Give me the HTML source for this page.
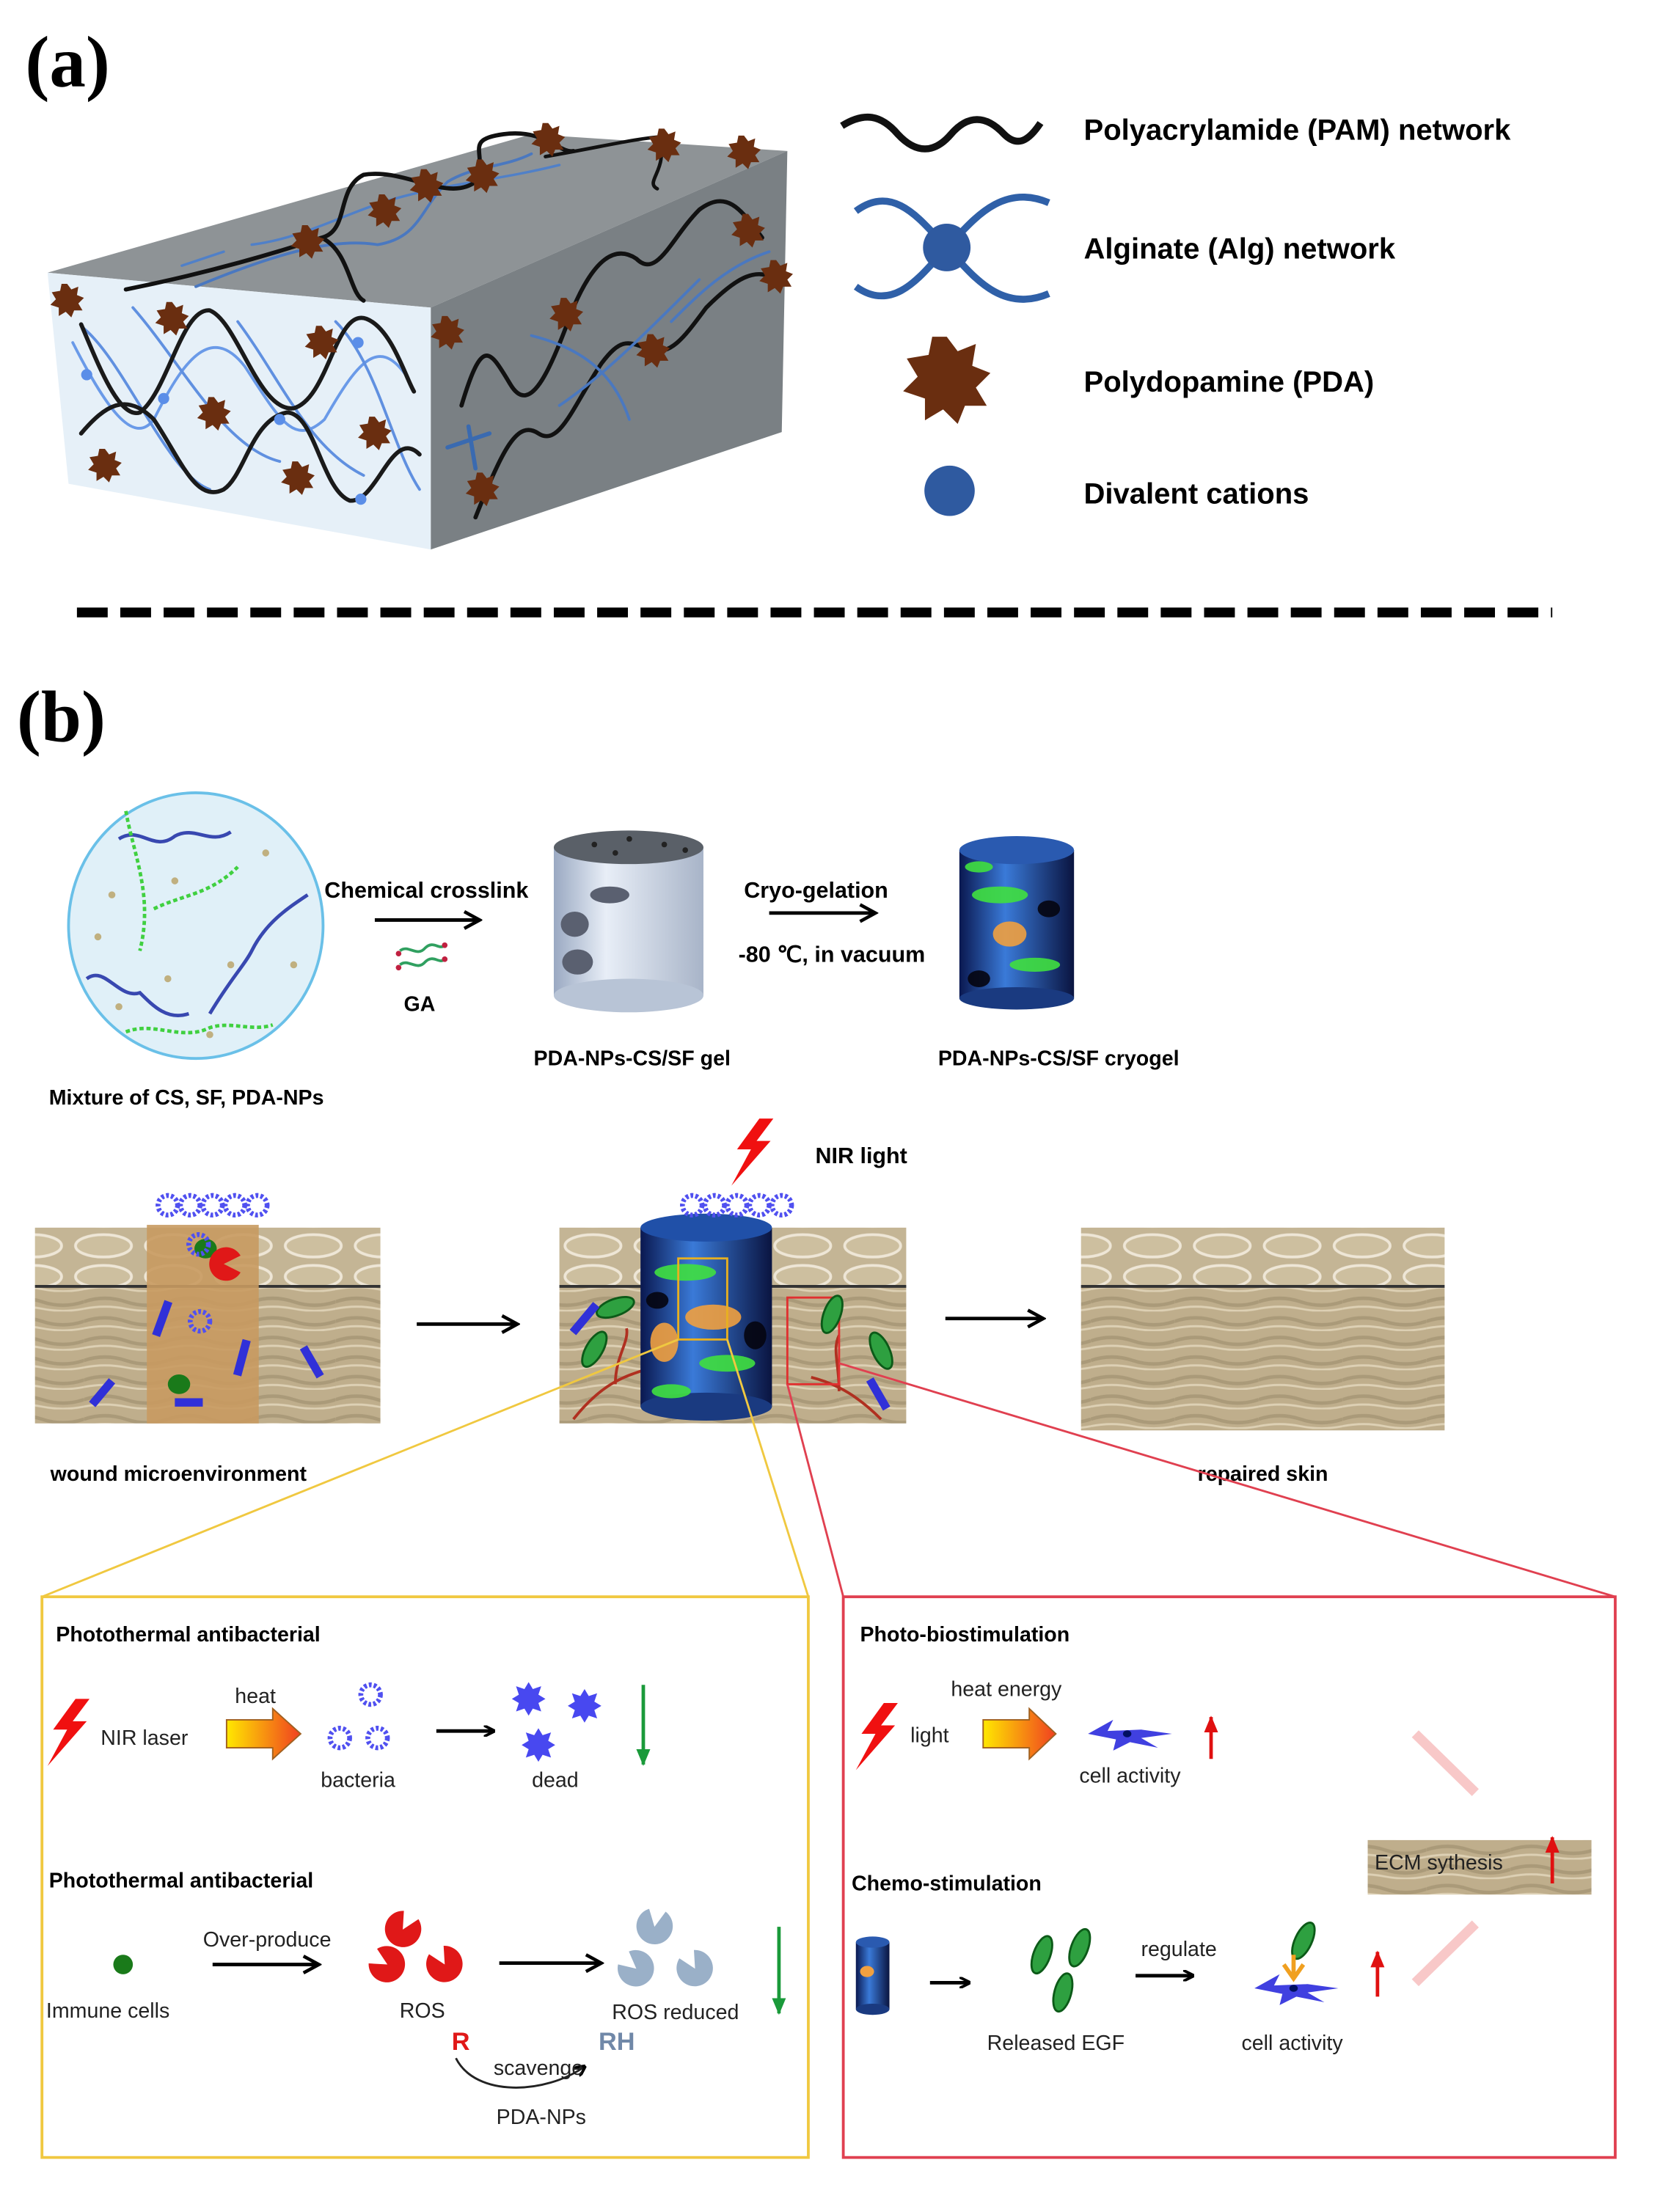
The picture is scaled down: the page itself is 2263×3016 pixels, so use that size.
<!DOCTYPE html>
<html><head><meta charset="utf-8"><style>
html,body{margin:0;padding:0;background:#fff;}
svg{display:block;}
text{font-family:"Liberation Sans",Arial,sans-serif;}
</style></head><body>
<svg width="2263" height="3016" viewBox="0 0 1187 1582" xmlns="http://www.w3.org/2000/svg">
<defs>
<linearGradient id="ga" x1="0" x2="1"><stop offset="0" stop-color="#ffe800"/><stop offset="1" stop-color="#f04020"/></linearGradient>
<linearGradient id="cyl" x1="0" x2="1"><stop offset="0" stop-color="#9aa9c2"/><stop offset="0.35" stop-color="#e8eef7"/><stop offset="1" stop-color="#a8b4c8"/></linearGradient>
<linearGradient id="cyg" x1="0" x2="1"><stop offset="0" stop-color="#0a1850"/><stop offset="0.4" stop-color="#3a7ad8"/><stop offset="1" stop-color="#0a1440"/></linearGradient>
<pattern id="derm" width="60" height="14" patternUnits="userSpaceOnUse"><rect width="60" height="14" fill="#bfae8c"/><path d="M0 7 Q15 2 30 7 T60 7" stroke="#9c8c6c" stroke-width="2.5" fill="none" opacity="0.6"/><path d="M0 12 Q15 9 30 12 T60 12" stroke="#ddd0b4" stroke-width="1.5" fill="none"/></pattern>
<pattern id="epi" width="50" height="22" patternUnits="userSpaceOnUse"><rect width="50" height="22" fill="#c4b595"/><ellipse cx="24" cy="11" rx="20" ry="8" fill="#cdbf9f" stroke="#eee6d6" stroke-width="2"/></pattern>
<marker id="ah" markerWidth="8" markerHeight="8" refX="7" refY="4" orient="auto" markerUnits="userSpaceOnUse"><path d="M0 0 L8 4 L0 8" fill="none" stroke="#000" stroke-width="2"/></marker>
<marker id="ahb" markerWidth="14" markerHeight="14" refX="12" refY="7" orient="auto" markerUnits="userSpaceOnUse"><path d="M1 1 L12 7 L1 13" fill="none" stroke="#000" stroke-width="2.4"/></marker>
<marker id="agr" markerWidth="12" markerHeight="10" refX="11" refY="5" orient="auto" markerUnits="userSpaceOnUse"><path d="M0 0 L12 5 L0 10Z" fill="#1a9a3a"/></marker>
<marker id="ard" markerWidth="12" markerHeight="10" refX="11" refY="5" orient="auto" markerUnits="userSpaceOnUse"><path d="M0 0 L12 5 L0 10Z" fill="#e01010"/></marker>
<g id="star"><polygon points="0,-12 3,-8 8,-10 7,-4 12,-2 8,2 11,7 5,7 3,12 -1,8 -6,11 -6,5 -12,3 -8,-1 -11,-6 -5,-7 -4,-12" fill="#6a2e10"/></g>
<g id="bac"><circle r="7" fill="none" stroke="#5050f0" stroke-width="3.5" stroke-dasharray="2 1.5"/></g>
<g id="dead"><polygon points="0,-12 3,-7 9,-9 7,-3 12,0 7,3 9,9 3,7 0,12 -3,7 -9,9 -7,3 -12,0 -7,-3 -9,-9 -3,-7" fill="#4848f0"/></g>
<g id="light"><polygon points="20,0 4,22 14,22 0,48 28,16 18,16 30,0" fill="#f01010"/></g>
<g id="egf"><ellipse rx="6" ry="14" fill="#2ea040" stroke="#0c5a18" stroke-width="1.5"/></g>
<g id="cell"><path d="M0 0 L18 -10 L14 -2 L38 -3 L60 0 L38 3 L50 10 L30 6 L18 12 L20 4 Z" fill="#4040e0"/><ellipse cx="28" cy="0" rx="3" ry="2.5" fill="#001060"/></g>
<g id="pac"><path d="M0 0 L12 -6 A13 13 0 1 0 12 6 Z" /></g>
</defs>

<!-- (a) -->
<text x="18" y="62" style="font-family:'Liberation Serif',serif;font-weight:bold;font-size:52px">(a)</text>
<polygon points="34,195 380,96 563,108 308,220" fill="#8e9396"/>
<polygon points="308,220 563,108 559,309 308,393" fill="#7a8084"/>
<polygon points="34,195 308,220 308,393 49,346" fill="#e6f0f8"/>
<g fill="none" stroke-linecap="round">
<path d="M52 245 C75 290 95 320 110 300 C130 260 150 230 175 262 C200 300 210 320 232 300 C255 260 270 240 290 268" stroke="#6a9ae8" stroke-width="2"/>
<path d="M60 235 C90 260 120 340 150 350 M95 220 C130 260 160 320 200 330 M170 230 C200 270 220 320 260 340 M240 230 C270 260 280 320 300 350" stroke="#6090e0" stroke-width="2"/>
<path d="M58 232 C70 260 85 300 100 295 C120 280 130 220 150 222 C170 230 185 295 210 292 C235 285 240 220 262 228 C280 235 290 270 296 280" stroke="#1a1a1a" stroke-width="3"/>
<path d="M58 310 C75 290 90 280 110 300 C130 330 140 360 160 350 C175 340 180 300 205 295 C225 295 230 350 250 358 C270 360 280 305 300 325" stroke="#1a1a1a" stroke-width="3"/>
</g>
<g fill="#5b8ee8"><circle cx="62" cy="268" r="4"/><circle cx="117" cy="285" r="4"/><circle cx="200" cy="300" r="4"/><circle cx="256" cy="245" r="4"/><circle cx="258" cy="357" r="4"/></g>
<use href="#star" x="48" y="215"/><use href="#star" x="123" y="228"/><use href="#star" x="230" y="245"/><use href="#star" x="153" y="296"/><use href="#star" x="268" y="310"/><use href="#star" x="75" y="333"/><use href="#star" x="213" y="342"/>
<g fill="none" stroke-linecap="round">
<path d="M140 205 C200 180 240 170 270 175 C300 170 300 150 320 130 C340 118 360 120 380 110" stroke="#4a78c0" stroke-width="2"/>
<path d="M130 190 L160 180 M180 175 C220 170 250 150 290 140 C330 130 360 128 400 118" stroke="#5080c8" stroke-width="1.8"/>
<path d="M90 207 C150 195 200 180 230 170 C250 165 240 135 260 125 C290 120 320 145 340 130 C350 110 330 100 360 96 C390 92 400 110 410 108 M230 170 C250 180 250 210 260 215" stroke="#111" stroke-width="3"/>
<path d="M390 112 C430 105 450 100 470 98 M470 98 C480 120 460 130 470 135" stroke="#111" stroke-width="2.5"/>
</g>
<use href="#star" x="220" y="173"/><use href="#star" x="305" y="133"/><use href="#star" x="345" y="126"/><use href="#star" x="392" y="100"/><use href="#star" x="475" y="104"/><use href="#star" x="275" y="151"/><use href="#star" x="532" y="109"/>
<g fill="none" stroke-linecap="round">
<path d="M330 290 C345 240 350 250 365 275 C380 300 395 260 410 220 C425 185 440 175 455 185 C470 200 480 170 500 150 C520 135 530 150 545 170" stroke="#111" stroke-width="3"/>
<path d="M340 370 C360 320 370 300 385 310 C400 320 410 290 430 260 C445 240 450 245 465 250 C480 255 490 240 505 220 C525 200 540 190 555 200" stroke="#111" stroke-width="3"/>
<path d="M380 240 C420 250 440 270 450 300 M400 290 C430 270 460 240 500 200 M480 230 C500 210 520 190 550 180" stroke="#4a78c0" stroke-width="2"/>
<path d="M320 320 L350 310 M335 305 L340 335" stroke="#3a6ab0" stroke-width="3"/>
</g>
<use href="#star" x="320" y="238"/><use href="#star" x="405" y="225"/><use href="#star" x="467" y="251"/><use href="#star" x="535" y="165"/><use href="#star" x="345" y="350"/><use href="#star" x="555" y="198"/>

<path d="M602 90 C618 80 630 82 642 96 C655 110 668 110 680 96 C692 82 705 82 718 96 C728 106 736 100 744 88" fill="none" stroke="#111" stroke-width="5"/>
<text x="775" y="100" font-weight="bold" font-size="21">Polyacrylamide (PAM) network</text>
<path d="M612 151 C640 130 660 160 677 177 C694 160 715 130 750 145 M612 205 C640 225 660 195 677 177 C694 195 715 225 750 210" fill="none" stroke="#2f60a8" stroke-width="5"/>
<circle cx="677" cy="177" r="17" fill="#2f5aa0"/>
<text x="775" y="185" font-weight="bold" font-size="21">Alginate (Alg) network</text>
<g transform="translate(677,272) scale(2.6)"><use href="#star"/></g>
<text x="775" y="280" font-weight="bold" font-size="21">Polydopamine (PDA)</text>
<circle cx="679" cy="351" r="18" fill="#2f5aa0"/>
<text x="775" y="360" font-weight="bold" font-size="21">Divalent cations</text>
<line x1="55" y1="438" x2="1110" y2="438" stroke="#000" stroke-width="7" stroke-dasharray="22 9"/>

<!-- (b) -->
<text x="12" y="530" style="font-family:'Liberation Serif',serif;font-weight:bold;font-size:52px">(b)</text>
<ellipse cx="140" cy="662" rx="91" ry="95" fill="#e0f0f8" stroke="#6ac0e8" stroke-width="2"/>
<g fill="none" stroke-width="2.5">
<path d="M85 600 C100 590 110 610 125 598 C140 590 150 605 165 595" stroke="#3848b0"/>
<path d="M62 700 C75 690 85 715 100 710 C110 720 120 730 135 725" stroke="#3848b0"/>
<path d="M150 725 C165 700 175 690 180 680 C190 660 205 650 220 640" stroke="#3848b0"/>
<path d="M90 580 C95 610 110 640 100 680 M110 650 C130 640 150 640 170 620" stroke="#40d040" stroke-dasharray="3 2"/>
<path d="M90 738 C110 730 130 745 150 735 C165 730 180 738 195 733" stroke="#40d040" stroke-dasharray="3 2"/>
</g>
<g fill="#c0b080"><circle cx="80" cy="640" r="2.5"/><circle cx="125" cy="630" r="2.5"/><circle cx="190" cy="610" r="2.5"/><circle cx="165" cy="690" r="2.5"/><circle cx="210" cy="690" r="2.5"/><circle cx="85" cy="720" r="2.5"/><circle cx="120" cy="700" r="2.5"/><circle cx="150" cy="740" r="2.5"/><circle cx="70" cy="670" r="2.5"/></g>
<text x="232" y="642" font-weight="bold" font-size="16">Chemical crosslink</text>
<line x1="268" y1="658" x2="343" y2="658" stroke="#000" stroke-width="2.5" marker-end="url(#ahb)"/>
<path d="M286 680 C292 675 298 685 304 678 C310 672 314 680 318 676 M286 690 C292 685 298 695 304 688 C310 682 314 690 318 686" fill="none" stroke="#30a060" stroke-width="2"/>
<circle cx="285" cy="682" r="2" fill="#c02040"/><circle cx="318" cy="676" r="2" fill="#c02040"/><circle cx="285" cy="692" r="2" fill="#c02040"/><circle cx="318" cy="686" r="2" fill="#c02040"/>
<text x="300" y="723" font-weight="bold" font-size="15" text-anchor="middle">GA</text>
<rect x="396" y="606" width="107" height="106" fill="url(#cyl)"/>
<ellipse cx="449.5" cy="712" rx="53.5" ry="12" fill="#b8c4d6"/>
<ellipse cx="449.5" cy="606" rx="53.5" ry="12" fill="#5a6068"/>
<g fill="#222"><circle cx="425" cy="604" r="2"/><circle cx="450" cy="600" r="2"/><circle cx="475" cy="604" r="2"/><circle cx="440" cy="610" r="2"/><circle cx="490" cy="608" r="2"/></g>
<ellipse cx="436" cy="640" rx="14" ry="6" fill="#5a6070"/><ellipse cx="411" cy="661" rx="10" ry="9" fill="#5a6070"/><ellipse cx="413" cy="688" rx="11" ry="9" fill="#5a6070"/>
<text x="452" y="762" font-weight="bold" font-size="15" text-anchor="middle">PDA-NPs-CS/SF  gel</text>
<text x="532" y="642" font-weight="bold" font-size="16">Cryo-gelation</text>
<line x1="550" y1="653" x2="626" y2="653" stroke="#000" stroke-width="2.5" marker-end="url(#ahb)"/>
<text x="528" y="688" font-weight="bold" font-size="16">-80 ℃, in vacuum</text>
<rect x="686" y="608" width="82" height="106" fill="url(#cyg)"/>
<ellipse cx="727" cy="714" rx="41" ry="8" fill="#1a3a80"/>
<ellipse cx="727" cy="608" rx="41" ry="10" fill="#2a5ab0"/>
<g opacity="0.9"><ellipse cx="715" cy="640" rx="20" ry="6" fill="#40e040"/><ellipse cx="722" cy="668" rx="12" ry="9" fill="#f0a040"/><ellipse cx="740" cy="690" rx="18" ry="5" fill="#40e040"/><ellipse cx="700" cy="700" rx="8" ry="6" fill="#050510"/><ellipse cx="750" cy="650" rx="8" ry="6" fill="#050510"/><ellipse cx="700" cy="620" rx="10" ry="4" fill="#40e040"/></g>
<text x="757" y="762" font-weight="bold" font-size="15" text-anchor="middle">PDA-NPs-CS/SF  cryogel</text>
<text x="35" y="790" font-weight="bold" font-size="15">Mixture of CS, SF, PDA-NPs</text>

<rect x="25" y="878" width="247" height="42" fill="url(#epi)"/><rect x="25" y="920" width="247" height="98" fill="url(#derm)"/><line x1="25" y1="920" x2="272" y2="920" stroke="#333" stroke-width="2"/>
<rect x="105" y="876" width="80" height="142" fill="#c89a60" opacity="0.9"/>
<g transform="translate(120,862)"><use href="#bac" x="0"/><use href="#bac" x="16"/><use href="#bac" x="32"/><use href="#bac" x="48"/><use href="#bac" x="64"/></g>
<ellipse cx="147" cy="893" rx="8" ry="7" fill="#1a7a1a"/><ellipse cx="128" cy="990" rx="8" ry="7" fill="#1a7a1a"/>
<path d="M160 904 L172 898 A12 12 0 1 0 172 910Z" fill="#e01818"/>
<use href="#bac" x="143" y="945"/><use href="#bac" x="142" y="890"/>
<g fill="#3030d8"><rect x="113" y="930" width="6" height="26" transform="rotate(20 116 943)"/><rect x="170" y="958" width="6" height="26" transform="rotate(15 173 971)"/><rect x="220" y="962" width="6" height="24" transform="rotate(-30 223 974)"/><rect x="70" y="985" width="6" height="22" transform="rotate(40 73 996)"/><rect x="125" y="1000" width="20" height="6"/></g>
<line x1="298" y1="947" x2="370" y2="947" stroke="#000" stroke-width="2.5" marker-end="url(#ahb)"/>

<rect x="400" y="878" width="248" height="42" fill="url(#epi)"/><rect x="400" y="920" width="248" height="98" fill="url(#derm)"/><line x1="400" y1="920" x2="648" y2="920" stroke="#333" stroke-width="2"/>
<path d="M410 1015 C430 990 445 985 460 980 M440 990 C440 970 450 960 448 950 M580 985 C600 990 615 1000 630 1015 M600 995 C600 975 595 965 600 955" fill="none" stroke="#b03020" stroke-width="2"/>
<rect x="458" y="878" width="94" height="128" fill="url(#cyg)"/>
<ellipse cx="505" cy="1006" rx="47" ry="10" fill="#1a3a80"/><ellipse cx="505" cy="878" rx="47" ry="10" fill="#2050a8"/>
<g opacity="0.9"><ellipse cx="490" cy="910" rx="22" ry="6" fill="#40e040"/><ellipse cx="510" cy="942" rx="20" ry="9" fill="#f0a040"/><ellipse cx="475" cy="960" rx="10" ry="14" fill="#f0a040"/><ellipse cx="520" cy="975" rx="20" ry="6" fill="#40e040"/><ellipse cx="470" cy="930" rx="8" ry="6" fill="#050510"/><ellipse cx="540" cy="955" rx="8" ry="10" fill="#050510"/><ellipse cx="480" cy="995" rx="14" ry="5" fill="#40e040"/></g>
<rect x="485" y="900" width="35" height="58" fill="none" stroke="#e8b020" stroke-width="1.5"/>
<rect x="563" y="928" width="37" height="62" fill="none" stroke="#e03030" stroke-width="1.5"/>
<use href="#egf" x="595" y="940" transform="rotate(20 595 940)"/><use href="#egf" x="630" y="966" transform="rotate(-25 630 966)"/><use href="#egf" x="440" y="935" transform="rotate(70 440 935)"/><use href="#egf" x="425" y="965" transform="rotate(30 425 965)"/>
<g fill="#3030d8"><rect x="415" y="930" width="6" height="26" transform="rotate(40 418 943)"/><rect x="625" y="985" width="6" height="24" transform="rotate(-30 628 997)"/></g>
<g transform="translate(495,862)"><use href="#bac" x="0"/><use href="#bac" x="16"/><use href="#bac" x="32"/><use href="#bac" x="48"/><use href="#bac" x="64"/></g>
<g transform="translate(523,800)"><use href="#light"/></g>
<text x="583" y="832" font-weight="bold" font-size="16">NIR light</text>
<line x1="676" y1="943" x2="746" y2="943" stroke="#000" stroke-width="2.5" marker-end="url(#ahb)"/>
<rect x="773" y="878" width="260" height="42" fill="url(#epi)"/><rect x="773" y="920" width="260" height="103" fill="url(#derm)"/><line x1="773" y1="920" x2="1033" y2="920" stroke="#333" stroke-width="2"/>
<text x="36" y="1059" font-weight="bold" font-size="15">wound microenvironment</text>
<text x="903" y="1059" font-weight="bold" font-size="15" text-anchor="middle">repaired skin</text>

<line x1="485" y1="958" x2="30" y2="1142" stroke="#f0c840" stroke-width="1.5"/>
<line x1="520" y1="958" x2="578" y2="1142" stroke="#f0c840" stroke-width="1.5"/>
<line x1="563" y1="990" x2="603" y2="1142" stroke="#e04050" stroke-width="1.5"/>
<line x1="600" y1="975" x2="1155" y2="1142" stroke="#e04050" stroke-width="1.5"/>
<rect x="30" y="1142" width="548" height="401" fill="none" stroke="#f0c840" stroke-width="2"/>
<rect x="603" y="1142" width="552" height="401" fill="none" stroke="#e04050" stroke-width="2"/>

<text x="40" y="1174" font-weight="bold" font-size="15">Photothermal antibacterial</text>
<g transform="translate(34,1215)"><use href="#light"/></g>
<text x="72" y="1248" font-size="15" fill="#222">NIR laser</text>
<text x="168" y="1218" font-size="15" fill="#222">heat</text>
<path d="M162 1230 L195 1230 L195 1222 L215 1240 L195 1258 L195 1250 L162 1250Z" fill="url(#ga)" stroke="#a06020" stroke-width="1"/>
<use href="#bac" x="265" y="1212"/><use href="#bac" x="243" y="1243"/><use href="#bac" x="270" y="1243"/>
<text x="256" y="1278" font-size="15" fill="#222" text-anchor="middle">bacteria</text>
<line x1="312" y1="1238" x2="353" y2="1238" stroke="#000" stroke-width="2.5" marker-end="url(#ah)"/>
<use href="#dead" x="378" y="1215"/><use href="#dead" x="418" y="1220"/><use href="#dead" x="385" y="1248"/>
<text x="397" y="1278" font-size="15" fill="#222" text-anchor="middle">dead</text>
<line x1="460" y1="1205" x2="460" y2="1262" stroke="#1a9a3a" stroke-width="2.5" marker-end="url(#agr)"/>
<text x="35" y="1350" font-weight="bold" font-size="15">Photothermal antibacterial</text>
<ellipse cx="88" cy="1405" rx="7" ry="7" fill="#1a7a1a"/>
<text x="33" y="1443" font-size="15" fill="#222">Immune cells</text>
<text x="191" y="1392" font-size="15" fill="#222" text-anchor="middle">Over-produce</text>
<line x1="152" y1="1405" x2="228" y2="1405" stroke="#000" stroke-width="2.5" marker-end="url(#ahb)"/>
<g fill="#e01818"><use href="#pac" x="288" y="1380" transform="rotate(-60 288 1380)"/><use href="#pac" x="277" y="1405" transform="rotate(-150 277 1405)"/><use href="#pac" x="318" y="1405" transform="rotate(-120 318 1405)"/></g>
<text x="302" y="1443" font-size="15" fill="#222" text-anchor="middle">ROS</text>
<line x1="357" y1="1404" x2="430" y2="1404" stroke="#000" stroke-width="2.5" marker-end="url(#ahb)"/>
<g fill="#9ab0c8"><use href="#pac" x="468" y="1378" transform="rotate(-80 468 1378)"/><use href="#pac" x="455" y="1408" transform="rotate(-140 455 1408)"/><use href="#pac" x="497" y="1408" transform="rotate(-120 497 1408)"/></g>
<text x="483" y="1444" font-size="15" fill="#222" text-anchor="middle">ROS reduced</text>
<line x1="557" y1="1378" x2="557" y2="1440" stroke="#1a9a3a" stroke-width="2.5" marker-end="url(#agr)"/>
<text x="323" y="1466" font-weight="bold" font-size="18" fill="#e01818">R</text>
<text x="428" y="1466" font-weight="bold" font-size="18" fill="#7088a8">RH</text>
<path d="M326 1472 C340 1500 390 1498 418 1478" fill="none" stroke="#222" stroke-width="1.5" marker-end="url(#ah)"/>
<text x="385" y="1484" font-size="15" fill="#222" text-anchor="middle">scavenge</text>
<text x="387" y="1519" font-size="15" fill="#222" text-anchor="middle">PDA-NPs</text>

<text x="615" y="1174" font-weight="bold" font-size="15">Photo-biostimulation</text>
<g transform="translate(612,1218)"><use href="#light"/></g>
<text x="651" y="1246" font-size="15" fill="#222">light</text>
<text x="680" y="1213" font-size="15" fill="#222">heat energy</text>
<path d="M703 1230 L736 1230 L736 1222 L755 1240 L736 1258 L736 1250 L703 1250Z" fill="url(#ga)" stroke="#a06020" stroke-width="1"/>
<use href="#cell" x="778" y="1240"/>
<text x="808" y="1275" font-size="15" fill="#222" text-anchor="middle">cell activity</text>
<line x1="866" y1="1258" x2="866" y2="1228" stroke="#e01010" stroke-width="2.5" marker-end="url(#ard)"/>
<line x1="1012" y1="1240" x2="1055" y2="1282" stroke="#f8c8c8" stroke-width="7"/>
<line x1="1012" y1="1418" x2="1055" y2="1376" stroke="#f8c8c8" stroke-width="7"/>
<rect x="978" y="1316" width="160" height="39" fill="url(#derm)"/>
<text x="983" y="1337" font-size="15" fill="#222">ECM sythesis</text>
<line x1="1110" y1="1347" x2="1110" y2="1314" stroke="#e01010" stroke-width="2.5" marker-end="url(#ard)"/>
<text x="609" y="1352" font-weight="bold" font-size="15">Chemo-stimulation</text>
<rect x="612" y="1389" width="24" height="48" fill="url(#cyg)"/><ellipse cx="624" cy="1389" rx="12" ry="4" fill="#2a5ab0"/><ellipse cx="624" cy="1437" rx="12" ry="4" fill="#1a3a80"/><ellipse cx="620" cy="1410" rx="5" ry="4" fill="#f0a040"/>
<line x1="665" y1="1418" x2="693" y2="1418" stroke="#000" stroke-width="2.5" marker-end="url(#ah)"/>
<use href="#egf" x="745" y="1398" transform="rotate(20 745 1398)"/><use href="#egf" x="772" y="1393" transform="rotate(20 772 1393)"/><use href="#egf" x="760" y="1425" transform="rotate(15 760 1425)"/>
<text x="755" y="1466" font-size="15" fill="#222" text-anchor="middle">Released EGF</text>
<text x="843" y="1399" font-size="15" fill="#222" text-anchor="middle">regulate</text>
<line x1="812" y1="1413" x2="853" y2="1413" stroke="#000" stroke-width="2.5" marker-end="url(#ah)"/>
<use href="#egf" x="932" y="1388" transform="rotate(25 932 1388)"/>
<path d="M925 1398 L925 1415 M918 1405 L925 1415 L932 1405" stroke="#f0a020" stroke-width="3" fill="none"/>
<use href="#cell" x="897" y="1422"/>
<text x="924" y="1466" font-size="15" fill="#222" text-anchor="middle">cell activity</text>
<line x1="985" y1="1428" x2="985" y2="1396" stroke="#e01010" stroke-width="2.5" marker-end="url(#ard)"/>
</svg>
</body></html>
